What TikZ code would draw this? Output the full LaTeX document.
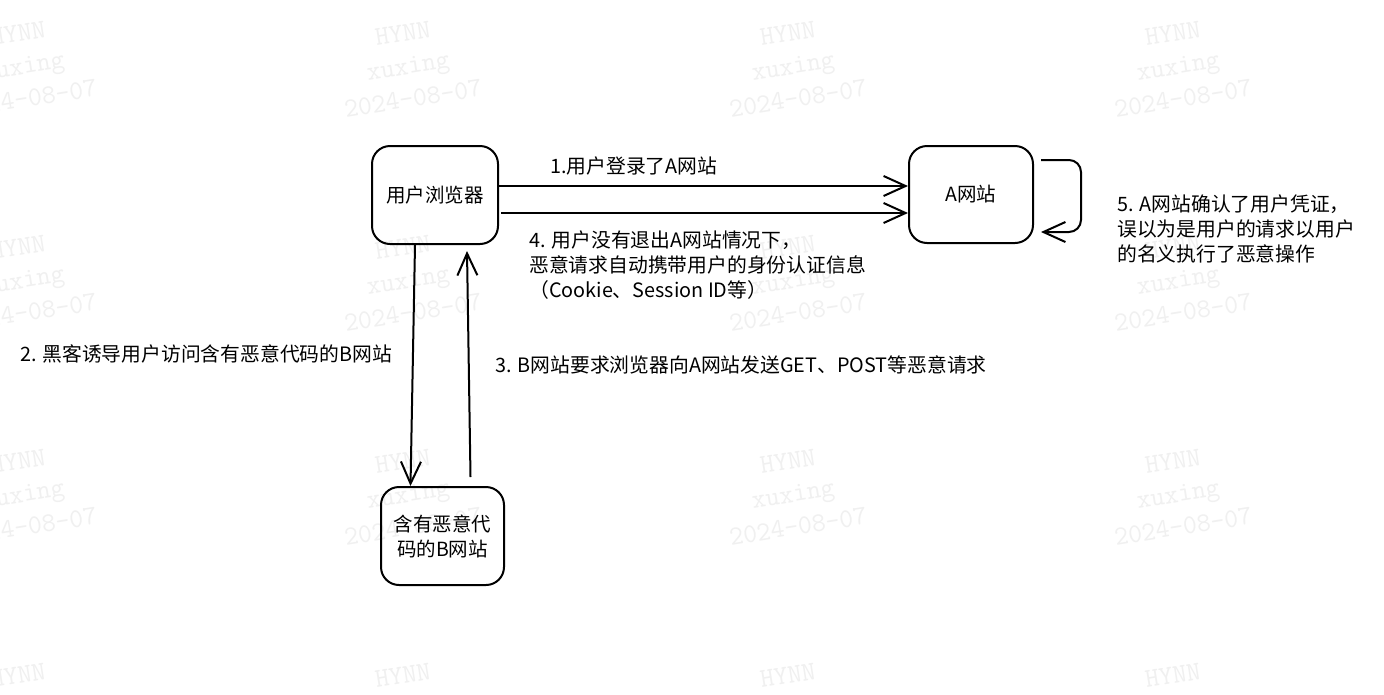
\documentclass[tikz,border=0pt]{standalone}
\usepackage{fontspec}
\setmainfont{Noto Sans CJK SC}
\usetikzlibrary{arrows.meta}
\tikzset{
  box/.style={draw, line width=2pt, rounded corners=18pt, minimum width=126pt, minimum height=98pt, align=center, font=\fontsize{19.5}{25}\selectfont},
  arr/.style={line width=2pt, -{Straight Barb[length=22pt,width=20pt,line width=2pt]}},
  lbl/.style={anchor=west, align=left, inner sep=0pt, font=\fontsize{19.8}{25}\selectfont},
  wm/.style={font=\ttfamily\fontsize{27}{33}\selectfont, text=black!6, rotate=9, align=center, inner sep=0pt}
}
\begin{document}
\begin{tikzpicture}[x=1pt,y=-1pt]
\useasboundingbox[fill=white] (0,0) rectangle (1384,694);
% watermarks
\foreach \cx in {23,408,793,1178}{
  \foreach \cy in {66,280,494,708}{
    \node[wm] (wm-\cx-\cy) at (\cx,\cy) {HYNN\\xuxing\\2024-08-07};
  }
}
% nodes
\node[box] (browser) at (435,195) {用户浏览器};
\node[box, minimum width=124pt, minimum height=97pt] (asite) at (971,194.5) {A网站};
\node[box, minimum width=123pt] (bsite) at (442.5,536) {含有恶意代\\码的B网站};
% connectors
\draw[arr] (browser.east |- 0,186) -- (asite.west |- 0,186);
\draw[arr] ([xshift=2pt]browser.east |- 0,213) -- (asite.west |- 0,213);
\draw[arr] ([xshift=-20pt]browser.south) -- ([xshift=-32pt]bsite.north);
\draw[arr] ([shift={(28,-9)}]bsite.north) -- ([shift={(32,6)}]browser.south);
\coordinate (loopstart) at ([shift={(7,-34.5)}]asite.east);
\coordinate (loopend) at ([shift={(7,37.5)}]asite.east);
\draw[arr, rounded corners=12pt] (loopstart) -- ++(40,0) |- (loopend);
% labels
\node[lbl] (l1) at (550,166) {1.用户登录了A网站};
\node[lbl] (l4) at (529,265) {4. 用户没有退出A网站情况下，\\恶意请求自动携带用户的身份认证信息\\（Cookie、Session ID等）};
\node[lbl] (l2) at (20,354) {2. 黑客诱导用户访问含有恶意代码的B网站};
\node[lbl] (l3) at (495,365) {3. B网站要求浏览器向A网站发送GET、POST等恶意请求};
\node[lbl] (l5) at (1117,229) {5. A网站确认了用户凭证，\\误以为是用户的请求以用户\\的名义执行了恶意操作};
\end{tikzpicture}
\end{document}
